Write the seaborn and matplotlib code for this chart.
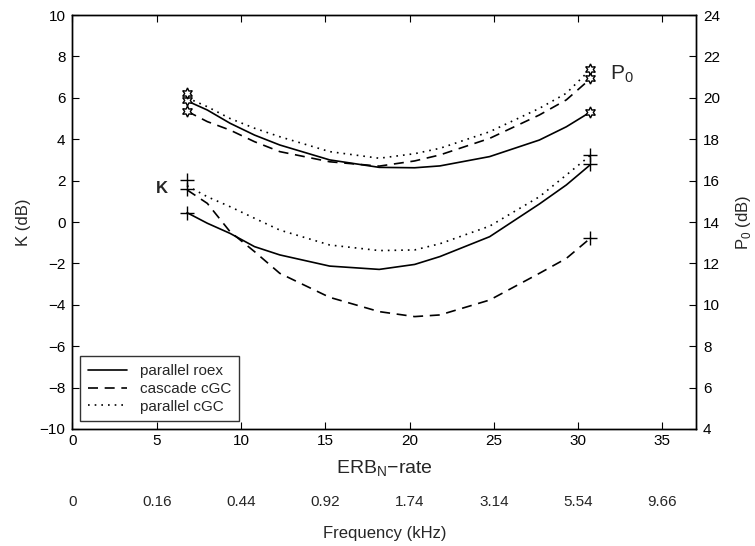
import numpy as np
import pandas as pd
import matplotlib
matplotlib.use("Agg")
import matplotlib.pyplot as plt
import seaborn as sns
from matplotlib.lines import Line2D

erb = [6.8, 8.0, 9.35, 10.8, 12.3, 15.26, 18.2, 20.3, 21.8, 24.75, 27.7, 29.3, 30.7]

# K (dB), left axis
k_roex = [0.45, -0.06, -0.55, -1.19, -1.59, -2.13, -2.29, -2.05, -1.67, -0.71, 0.87, 1.79, 2.75]
k_cascade = [1.55, 0.9, -0.47, -1.43, -2.48, -3.64, -4.33, -4.57, -4.49, -3.77, -2.48, -1.76, -0.8]
k_pcgc = [1.75, 1.22, 0.74, 0.18, -0.39, -1.11, -1.38, -1.35, -1.05, -0.2, 1.22, 2.27, 3.2]

# P0 (dB), right axis
p_roex = [19.85, 19.41, 18.77, 18.2, 17.72, 17.0, 16.64, 16.62, 16.71, 17.16, 17.96, 18.6, 19.3]
p_cascade = [19.35, 18.85, 18.44, 17.88, 17.4, 16.91, 16.7, 16.95, 17.24, 18.04, 19.17, 19.9, 20.9]
p_pcgc = [20.0, 19.57, 19.0, 18.53, 18.12, 17.4, 17.08, 17.3, 17.56, 18.36, 19.49, 20.22, 21.35]

# data points (markers) at the two ends
end_erb = [6.8, 30.7]
k_pts = {"parallel roex": [0.45, 2.8], "cascade cGC": [1.6, -0.75], "parallel cGC": [2.05, 3.25]}
p_pts = {"parallel roex": [19.9, 19.3], "cascade cGC": [19.35, 20.95], "parallel cGC": [20.25, 21.4]}

erb_ticks = [0, 5, 10, 15, 20, 25, 30, 35]
freq_labels = ["0", "0.16", "0.44", "0.92", "1.74", "3.14", "5.54", "9.66"]

models = ["parallel roex", "cascade cGC", "parallel cGC"]
styles = {"parallel roex": "-", "cascade cGC": (0, (6, 4)), "parallel cGC": (0, (1, 3))}

sns.set_style("white")
plt.rcParams["font.family"] = ["Liberation Sans", "DejaVu Sans"]
plt.rcParams["mathtext.fontset"] = "custom"
plt.rcParams["mathtext.rm"] = "Liberation Sans"

fig = plt.figure(figsize=(7.55, 5.46), dpi=100)
ax = fig.add_axes([0.096, 0.2143, 0.826, 0.7582])
ax2 = ax.twinx()

k_data = {"parallel roex": k_roex, "cascade cGC": k_cascade, "parallel cGC": k_pcgc}
p_data = {"parallel roex": p_roex, "cascade cGC": p_cascade, "parallel cGC": p_pcgc}

for m in models:
    sns.lineplot(x=erb, y=k_data[m], ax=ax, color="black", linewidth=1.2, linestyle=styles[m])
    sns.lineplot(x=erb, y=p_data[m], ax=ax2, color="black", linewidth=1.2, linestyle=styles[m])
    ax.plot(end_erb, k_pts[m], linestyle="none", marker="+", markersize=10,
            markeredgewidth=1.0, color="black")
    ax2.plot(end_erb, p_pts[m], linestyle="none", marker=(6, 1, 0), markersize=8,
             markeredgewidth=1.0, markerfacecolor="white", markeredgecolor="black")

ax.set_xlim(0, 37)
ax.set_ylim(-10, 10)
ax2.set_ylim(4, 24)
ax.set_yticks(np.arange(-10, 11, 2))
ax2.set_yticks(np.arange(4, 25, 2))
ax.set_xticks(erb_ticks)

for a in (ax, ax2):
    for s in a.spines.values():
        s.set_color("black")
        s.set_linewidth(1.0)
ax.tick_params(axis="both", direction="in", length=5, width=0.8, labelsize=11,
               top=True, bottom=True, left=True, right=False, colors="black")
ax.tick_params(axis="y", pad=5)
ax2.tick_params(axis="y", direction="in", length=5, width=0.8, labelsize=11, colors="black", pad=5)

ax.set_ylabel("K (dB)", fontsize=12, labelpad=6)
ax2.set_ylabel("P$_0$ (dB)", fontsize=12, labelpad=10)
ax.set_xlabel("ERB$_\\mathrm{N}$\u2212rate", fontsize=14, labelpad=8)

sec = ax.secondary_xaxis(-0.16)
sec.set_xticks(erb_ticks, labels=freq_labels)
sec.tick_params(length=0, labelsize=11, pad=0)
sec.spines["bottom"].set_visible(False)
sec.set_xlabel("Frequency (kHz)", fontsize=12, labelpad=12)

ax.text(5.3, 1.6, "K", fontsize=12, fontweight="bold", ha="center", va="center")
ax2.text(31.9, 21.15, "P$_0$", fontsize=15, ha="left", va="center")

handles = [Line2D([], [], color="black", linewidth=1.2, linestyle=styles[m]) for m in models]
leg = ax.legend(handles, models, loc="lower left", fontsize=11, frameon=True, fancybox=False,
                borderaxespad=0.5, handlelength=2.6, borderpad=0.5, labelspacing=0.25,
                handletextpad=0.8)
leg.get_frame().set_edgecolor("black")
leg.get_frame().set_linewidth(1.0)

fig.savefig("out.png", dpi=100)
